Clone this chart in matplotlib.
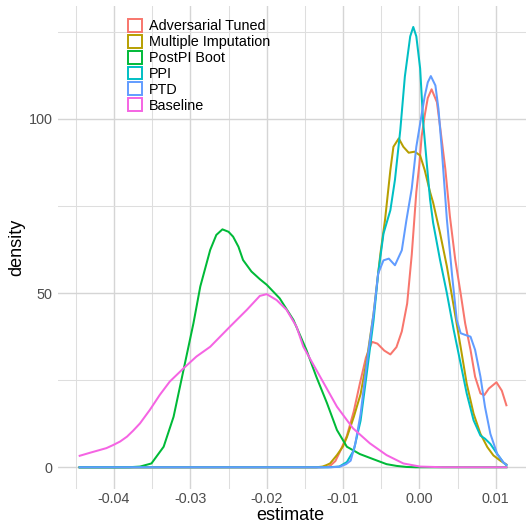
import matplotlib
matplotlib.use("Agg")
import matplotlib.pyplot as plt
from matplotlib.patches import Patch
from matplotlib.ticker import MultipleLocator

plt.rcParams['font.family'] = ['Liberation Sans', 'DejaVu Sans']

# ---------------- data ----------------
series_names = ["Adversarial Tuned", "Multiple Imputation", "PostPI Boot",
                "PPI", "PTD", "Baseline"]
series_colors = ["#F8766D", "#B79F00", "#00BA38", "#00BFC4", "#619CFF", "#F564E3"]

adv_x = [-0.0445, -0.030, -0.020, -0.0130, -0.0121, -0.0117, -0.0110, -0.0104, -0.0095,
         -0.0086, -0.0078, -0.0070, -0.0062, -0.0055, -0.0046, -0.0038, -0.0030, -0.0023,
         -0.0016, -0.0010, -0.0004, 0.0000, 0.0003, 0.0007, 0.0011, 0.0016, 0.0023, 0.0027,
         0.0034, 0.0040, 0.0047, 0.0054, 0.0060, 0.0067, 0.0073, 0.0080, 0.0085, 0.0091,
         0.0101, 0.0108, 0.0114]
adv_y = [0, 0, 0, 0, 0.1, 0.4, 1.8, 4.5, 9, 16, 24, 31.5, 36, 35.5, 33.5, 32.4, 34.5, 39,
         47, 61, 79, 87, 95, 101, 106, 108.5, 104.8, 98, 85.6, 72, 59.6, 50, 41.3, 33.7,
         26, 21.2, 20.7, 22.6, 24.4, 22, 17.8]

mi_x = [-0.0445, -0.030, -0.020, -0.0135, -0.0127, -0.0122, -0.0117, -0.0108, -0.0100,
        -0.0095, -0.0086, -0.0077, -0.0069, -0.0060, -0.0051, -0.0045, -0.0038, -0.0034,
        -0.0027, -0.0021, -0.0014, -0.0006, 0.0001, 0.0007, 0.0014, 0.0018, 0.0027, 0.0036,
        0.0045, 0.0054, 0.0062, 0.0071, 0.0080, 0.0089, 0.0097, 0.0106, 0.0114]
mi_y = [0, 0, 0, 0, 0.2, 0.6, 1.1, 3.5, 6, 8.6, 14.4, 21, 30.7, 44.1, 61.4, 71, 85.3, 92,
        94.4, 92, 90.3, 90.6, 89.5, 85.3, 79, 76, 67.3, 57.7, 46.2, 34.6, 24, 15.4, 9.6,
        5.8, 3.4, 1.9, 0.8]

boot_x = [-0.0445, -0.040, -0.0380, -0.0366, -0.0351, -0.0335, -0.0322, -0.0309, -0.0296,
          -0.0287, -0.0274, -0.0266, -0.0258, -0.0250, -0.0244, -0.0237, -0.0231, -0.0220,
          -0.0209, -0.0200, -0.0183, -0.0165, -0.0148, -0.0135, -0.0121, -0.0108, -0.0095,
          -0.0078, -0.0060, -0.0043, -0.0030, -0.0017, -0.0005, 0.0050, 0.0114]
boot_y = [0, 0, 0.02, 0.2, 1.1, 5.9, 14.5, 27.9, 41.3, 51.9, 62.4, 66.7, 68.3, 67.6, 66.2,
          63.3, 59.5, 56.2, 54, 52.4, 48.5, 42.3, 33.7, 26, 18.4, 10.7, 5.9, 3.8, 2.3, 0.9,
          0.4, 0.1, 0, 0, 0]

ppi_x = [-0.0445, -0.030, -0.020, -0.0120, -0.0105, -0.0095, -0.0086, -0.0077, -0.0069,
         -0.0060, -0.0054, -0.0047, -0.0038, -0.0032, -0.0025, -0.0019, -0.0012, -0.0008,
         -0.0004, 0.0001, 0.0005, 0.0010, 0.0014, 0.0018, 0.0027, 0.0036, 0.0045, 0.0054,
         0.0062, 0.0071, 0.0080, 0.0086, 0.0093, 0.0102, 0.0110, 0.0114]
ppi_y = [0, 0, 0, 0, 0.2, 1.5, 4.8, 13.4, 26.8, 42.2, 55.6, 67.1, 73.8, 82.5, 96.8, 112.2,
         123.7, 126.4, 123.7, 114.5, 99, 86.5, 76.9, 70.2, 59.6, 50, 39.4, 29.8, 21.2, 13.5,
         9.1, 8.2, 6.7, 3.8, 1.4, 0.6]

ptd_x = [-0.0445, -0.030, -0.020, -0.0115, -0.0104, -0.0096, -0.0090, -0.0084, -0.0077,
         -0.0069, -0.0060, -0.0054, -0.0047, -0.0040, -0.0032, -0.0023, -0.0017, -0.0010,
         -0.0004, 0.0002, 0.0007, 0.0011, 0.0015, 0.0021, 0.0025, 0.0029, 0.0036, 0.0043,
         0.0049, 0.0054, 0.0060, 0.0067, 0.0073, 0.0080, 0.0086, 0.0093, 0.0102, 0.0110,
         0.0114]
ptd_y = [0, 0, 0, 0, 0.2, 0.9, 1.9, 6.7, 15.3, 29.7, 44.1, 55.6, 59.4, 59.9, 58, 62.3, 70.9,
         80, 92, 100, 106.5, 110.5, 112.3, 109.6, 102.9, 92.3, 71.2, 54.8, 42.3, 38.5, 38,
         37.5, 33.7, 26, 17.3, 9.6, 3.8, 1.4, 0.7]

base_x = [-0.0445, -0.0431, -0.0410, -0.0401, -0.0392, -0.0383, -0.0375, -0.0366, -0.0353,
          -0.0340, -0.0327, -0.0309, -0.0292, -0.0274, -0.0248, -0.0226, -0.0209, -0.0200,
          -0.0187, -0.0174, -0.0161, -0.0152, -0.0141, -0.0130, -0.0108, -0.0087, -0.0065,
          -0.0043, -0.0021, 0.0001, 0.0030, 0.0114]
base_y = [3.3, 4.2, 5.5, 6.4, 7.4, 8.8, 10.5, 12.6, 16.5, 20.8, 24.6, 28.4, 31.8, 34.6,
          40.4, 45.2, 49.2, 49.7, 48, 45.2, 40.4, 34.6, 30.3, 26, 17.4, 11.2, 6.9, 3.5, 1.1,
          0.2, 0.02, 0]

x_ticks = [-0.04, -0.03, -0.02, -0.01, 0.00, 0.01]
x_tick_labels = ["-0.04", "-0.03", "-0.02", "-0.01", "0.00", "0.01"]
y_ticks = [0, 50, 100]
y_tick_labels = ["0", "50", "100"]

series_x = [adv_x, mi_x, boot_x, ppi_x, ptd_x, base_x]
series_y = [adv_y, mi_y, boot_y, ppi_y, ptd_y, base_y]

# ---------------- figure ----------------
W, H = 526, 525
fig = plt.figure(figsize=(W / 100, H / 100), dpi=100)
fig.patch.set_facecolor("white")
p_left, p_right, p_top, p_bottom = 58.0, 528.0, 6.4, 489.3
ax = fig.add_axes([p_left / W, (H - p_bottom) / H, (p_right - p_left) / W, (p_bottom - p_top) / H])
ax.set_facecolor("white")

for xs, ys, c in zip(series_x, series_y, series_colors):
    ax.plot(xs, ys, color=c, lw=1.45, solid_joinstyle="round")

ax.set_xlim(-0.04734, 0.01423)
ax.set_ylim(-6.32, 132.3)

for sp in ax.spines.values():
    sp.set_visible(False)

ax.set_xticks(x_ticks)
ax.set_xticklabels(x_tick_labels)
ax.set_yticks(y_ticks)
ax.set_yticklabels(y_tick_labels)
ax.xaxis.set_minor_locator(MultipleLocator(0.005))
ax.yaxis.set_minor_locator(MultipleLocator(25))
ax.grid(which="major", color="#D5D5D5", lw=1.0, zorder=0)
ax.grid(which="minor", color="#DEDEDE", lw=0.75, zorder=0)
ax.set_axisbelow(True)
ax.tick_params(which="both", length=0)
ax.tick_params(axis="x", labelsize=10.4, labelcolor="#4D4D4D", pad=2.2)
ax.tick_params(axis="y", labelsize=10.4, labelcolor="#4D4D4D", pad=4.0)

ax.set_xlabel("estimate", fontsize=13, color="black")
ax.xaxis.set_label_coords((290.8 - p_left) / (p_right - p_left),
                          (p_bottom - 516) / (p_bottom - p_top))
ax.xaxis.label.set_va("center")
ax.set_ylabel("density", fontsize=13, color="black")
ax.yaxis.set_label_coords((16.7 - p_left) / (p_right - p_left),
                          (p_bottom - 247) / (p_bottom - p_top))
ax.yaxis.label.set_va("center")

handles = [Patch(facecolor="none", edgecolor=c, linewidth=1.4) for c in series_colors]
leg = ax.legend(handles, series_names, loc="upper left",
                bbox_to_anchor=(127.8 / W, (H - 19.0) / H), bbox_transform=fig.transFigure,
                frameon=False, fontsize=10.4, handlelength=1.0, handleheight=1.0,
                handletextpad=0.46, labelspacing=0.1, borderpad=0, borderaxespad=0)

fig.savefig("out.png", dpi=100, facecolor="white")
